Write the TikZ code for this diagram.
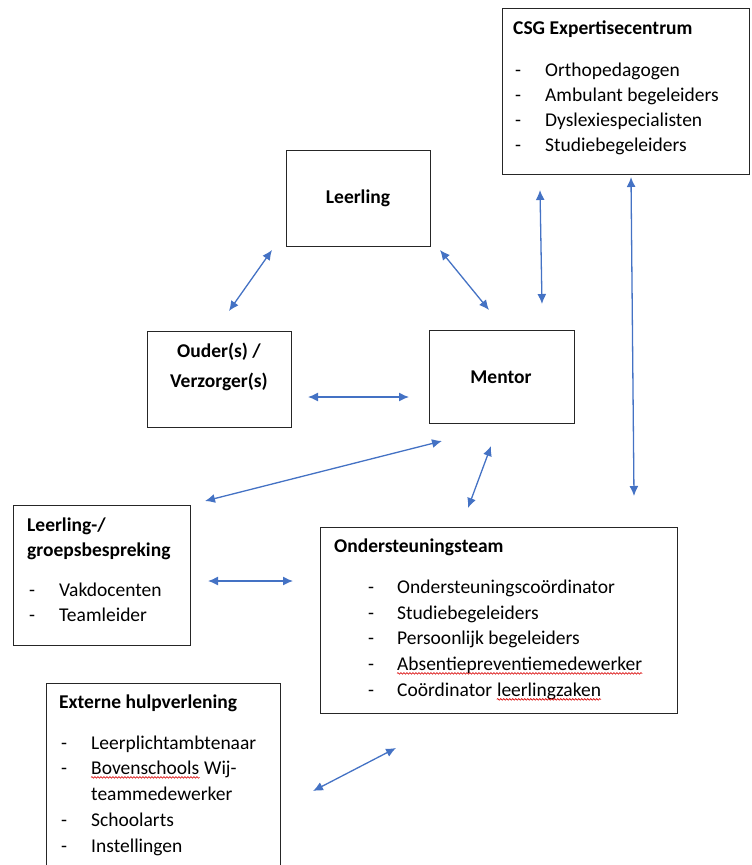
\documentclass[tikz,border=0pt]{standalone}
\usepackage{fontspec}
\setmainfont{Carlito}
\usetikzlibrary{arrows.meta,decorations.pathmorphing}
\definecolor{arrowblue}{HTML}{4472C4}
\definecolor{boxline}{HTML}{262626}
\tikzset{
  box/.style={draw=boxline, line width=1.1pt, inner sep=0pt, anchor=north west},
  txt/.style={inner sep=0pt, anchor=mid west, yshift=-4pt, font=\fontsize{19.5}{23}\selectfont},
  ctxt/.style={inner sep=0pt, anchor=mid, yshift=-4pt, font=\fontsize{19.5}{23}\selectfont\bfseries},
  ttl/.style={txt, font=\fontsize{19.5}{23}\selectfont\bfseries},
  conn/.style={draw=arrowblue, line width=1.3pt, {Latex[length=10pt,width=9pt]}-{Latex[length=10pt,width=9pt]}},
  wavy/.style={draw=red!85!black, line width=0.6pt, decorate, decoration={snake, amplitude=0.8pt, segment length=3pt}}
}
\begin{document}
\begin{tikzpicture}[x=1pt,y=-1pt]
\useasboundingbox (0,0) rectangle (752,865);
% boxes
\node[box, minimum width=247pt, minimum height=166pt] (csg) at (502,8) {};
\node[box, minimum width=144pt, minimum height=96pt] (leer) at (286,150) {};
\node[box, minimum width=144pt, minimum height=96pt] (oud) at (147,331) {};
\node[box, minimum width=145pt, minimum height=93pt] (ment) at (429,330) {};
\node[box, minimum width=177pt, minimum height=140pt] (bespr) at (13,505) {};
\node[box, minimum width=357pt, minimum height=186pt] (ond) at (320,527) {};
\node[box, minimum width=234pt, minimum height=200pt] (ext) at (46,683) {};
% CSG
\node[ttl] (csgt) at (513,28) {CSG Expertisecentrum};
\node[txt] (csgd1) at (515,70) {-};
\node[txt] (csgi1) at (545,70) {Orthopedagogen};
\node[txt] (csgd2) at (515,95) {-};
\node[txt] (csgi2) at (545,95) {Ambulant begeleiders};
\node[txt] (csgd3) at (515,120) {-};
\node[txt] (csgi3) at (545,120) {Dyslexiespecialisten};
\node[txt] (csgd4) at (515,145) {-};
\node[txt] (csgi4) at (545,145) {Studiebegeleiders};
% Leerling
\node[ctxt] (leert) at (358,197) {Leerling};
% Ouder
\node[ctxt] (oudt1) at (219,351) {Ouder(s) /};
\node[ctxt] (oudt2) at (219,381) {Verzorger(s)};
% Mentor
\node[ctxt] (mentt) at (501,377) {Mentor};
% Bespreking
\node[ttl] (besprt1) at (27,525) {Leerling-/};
\node[ttl] (besprt2) at (27,550) {groepsbespreking};
\node[txt] (bd1) at (29,590) {-};
\node[txt] (bi1) at (59,590) {Vakdocenten};
\node[txt] (bd2) at (29,615) {-};
\node[txt] (bi2) at (59,615) {Teamleider};
% Ondersteuningsteam
\node[ttl] (ondt) at (334,546) {Ondersteuningsteam};
\node[txt] (od1) at (368,587) {-};
\node[txt] (oi1) at (397,587) {Ondersteuningscoördinator};
\node[txt] (od2) at (368,613) {-};
\node[txt] (oi2) at (397,613) {Studiebegeleiders};
\node[txt] (od3) at (368,638) {-};
\node[txt] (oi3) at (397,638) {Persoonlijk begeleiders};
\node[txt] (od4) at (368,664) {-};
\node[txt] (oi4) at (397,664) {Absentiepreventiemedewerker};
\node[txt] (od5) at (368,690) {-};
\node[txt] (oi5) at (397,690) {Coördinator};
\node[txt, yshift=4pt] (oi5b) at ([xshift=4.4pt]oi5.mid east) {leerlingzaken};
% Externe
\node[ttl] (extt) at (59,702) {Externe hulpverlening};
\node[txt] (ed1) at (61,743) {-};
\node[txt] (ei1) at (91,743) {Leerplichtambtenaar};
\node[txt] (ed2) at (61,768) {-};
\node[txt] (ei2) at (91,768) {Bovenschools};
\node[txt, yshift=4pt] (ei2b) at ([xshift=4.4pt]ei2.mid east) {Wij-};
\node[txt] (ei2c) at (91,794) {teammedewerker};
\node[txt] (ed3) at (61,820) {-};
\node[txt] (ei3) at (91,820) {Schoolarts};
\node[txt] (ed4) at (61,846) {-};
\node[txt] (ei4) at (91,846) {Instellingen};
% spell-check underlines
\draw[wavy] ([yshift=-3pt]oi4.base west) -- ([yshift=-3pt]oi4.base east);
\draw[wavy] ([yshift=-3pt]oi5b.base west) -- ([yshift=-3pt]oi5b.base east);
\draw[wavy] ([yshift=-3pt]ei2.base west) -- ([yshift=-3pt]ei2.base east);
% connector endpoints
\coordinate (a1) at (272,250); \coordinate (b1) at (229,311);
\coordinate (a2) at (440,250); \coordinate (b2) at (489,310);
\coordinate (a3) at (540,190); \coordinate (b3) at (542,304);
\coordinate (a4) at (631,177); \coordinate (b4) at (634,496);
\coordinate (a5) at (308,397); \coordinate (b5) at (409,397);
\coordinate (a6) at (442,441); \coordinate (b6) at (205,501);
\coordinate (a7) at (491,446); \coordinate (b7) at (468,508);
\coordinate (a8) at (208,581); \coordinate (b8) at (293,581);
\coordinate (a9) at (396,748); \coordinate (b9) at (313,791);
\foreach \i in {1,...,9} { \draw[conn] (a\i) -- (b\i); }
\end{tikzpicture}
\end{document}
